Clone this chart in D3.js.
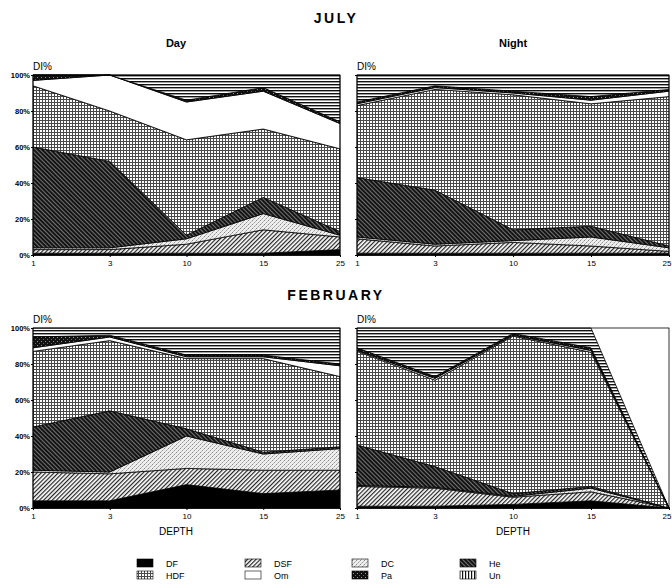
<!DOCTYPE html>
<html>
<head>
<meta charset="utf-8">
<script src="https://cdn.jsdelivr.net/npm/d3@7/dist/d3.min.js"></script>
<style>
  html, body { margin: 0; padding: 0; background: #fff; }
  svg { display: block; font-family: "Liberation Sans", Arial, sans-serif; }
</style>
</head>
<body>
<svg id="chart" width="672" height="588"></svg>
<script>
// ---------- DATA ----------
const depths = ["1", "3", "10", "15", "25"];
const seriesNames = ["DF", "DSF", "DC", "He", "HDF", "Om", "Pa", "Un"];
const legendOrder = ["DF", "DSF", "DC", "He", "HDF", "Om", "Pa", "Un"];
const yTicks = [0, 20, 40, 60, 80, 100];
const yTickLabels = ["0%", "20%", "40%", "60%", "80%", "100%"];

// July, Day (percent of diet per category at each depth)
const julyDayDF  = [1, 1, 1, 1, 3];
const julyDayDSF = [2, 2, 5, 13, 7];
const julyDayDC  = [1, 1, 3, 9, 1];
const julyDayHe  = [56, 48, 2, 9, 2];
const julyDayHDF = [34, 28, 53, 38, 46];
const julyDayOm  = [3, 20, 21, 21, 14];
const julyDayPa  = [3, 0, 1, 2, 1];
const julyDayUn  = [0, 0, 14, 7, 26];

// July, Night
const julyNightDF  = [1, 1, 1, 1, 1];
const julyNightDSF = [8, 4, 6, 4, 1];
const julyNightDC  = [1, 1, 1, 5, 2];
const julyNightHe  = [33, 30, 6, 6, 1];
const julyNightHDF = [40, 56, 75, 68, 83];
const julyNightOm  = [1, 1, 1, 2, 3];
const julyNightPa  = [1, 1, 1, 2, 1];
const julyNightUn  = [15, 6, 9, 12, 8];

// February, Day
const febDayDF  = [4, 4, 13, 8, 10];
const febDayDSF = [16, 15, 9, 13, 11];
const febDayDC  = [1, 1, 18, 9, 12];
const febDayHe  = [24, 34, 4, 1, 1];
const febDayHDF = [42, 39, 39, 52, 39];
const febDayOm  = [2, 2, 1, 1, 6];
const febDayPa  = [6, 1, 1, 1, 1];
const febDayUn  = [5, 4, 15, 15, 20];

// February, Night
const febNightDF  = [1, 1, 2, 4, 0];
const febNightDSF = [11, 10, 4, 5, 0];
const febNightDC  = [0.5, 0.5, 0.5, 2, 0];
const febNightHe  = [22.5, 11.5, 1.5, 1, 0];
const febNightHDF = [52, 48, 87.5, 74.5, 0];
const febNightOm  = [0.5, 1, 0.5, 1, 0];
const febNightPa  = [1.5, 1, 1, 1.5, 0];
const febNightUn  = [11, 27, 3, 11, 0];

const panelSeries = {
  julyDay:   [julyDayDF, julyDayDSF, julyDayDC, julyDayHe, julyDayHDF, julyDayOm, julyDayPa, julyDayUn],
  julyNight: [julyNightDF, julyNightDSF, julyNightDC, julyNightHe, julyNightHDF, julyNightOm, julyNightPa, julyNightUn],
  febDay:    [febDayDF, febDayDSF, febDayDC, febDayHe, febDayHDF, febDayOm, febDayPa, febDayUn],
  febNight:  [febNightDF, febNightDSF, febNightDC, febNightHe, febNightHDF, febNightOm, febNightPa, febNightUn]
};

// ---------- DRAWING ----------
const svg = d3.select("#chart");
const defs = svg.append("defs");

function pat(id, w, h, build, transform) {
  const p = defs.append("pattern").attr("id", id)
    .attr("patternUnits", "userSpaceOnUse").attr("width", w).attr("height", h);
  if (transform) p.attr("patternTransform", transform);
  build(p);
}
// DSF: diagonal hatch
pat("pDSF", 3, 3, p => {
  p.append("rect").attr("width", 3).attr("height", 3).attr("fill", "#fff");
  p.append("rect").attr("width", 1.2).attr("height", 3).attr("fill", "#222");
}, "rotate(45)");
// DC: light stipple
pat("pDC", 4, 4, p => {
  p.append("rect").attr("width", 4).attr("height", 4).attr("fill", "#eee");
  p.append("rect").attr("x", 0).attr("y", 0).attr("width", 1).attr("height", 1).attr("fill", "#888");
  p.append("rect").attr("x", 2).attr("y", 2).attr("width", 1).attr("height", 1).attr("fill", "#999");
  p.append("rect").attr("x", 3).attr("y", 1).attr("width", 1).attr("height", 1).attr("fill", "#bbb");
  p.append("rect").attr("x", 1).attr("y", 3).attr("width", 1).attr("height", 1).attr("fill", "#bbb");
});
// He: dark diagonal hatch
pat("pHe", 3, 3, p => {
  p.append("rect").attr("width", 3).attr("height", 3).attr("fill", "#141414");
  p.append("rect").attr("width", 0.8).attr("height", 3).attr("fill", "#8a8a8a");
}, "rotate(-45)");
// HDF: fine grid
pat("pHDF", 3, 3, p => {
  p.append("rect").attr("width", 3).attr("height", 3).attr("fill", "#fff");
  p.append("rect").attr("width", 3).attr("height", 1).attr("fill", "#4a4a4a");
  p.append("rect").attr("width", 1).attr("height", 3).attr("fill", "#4a4a4a");
});
// Pa: dark stipple
pat("pPa", 4, 4, p => {
  p.append("rect").attr("width", 4).attr("height", 4).attr("fill", "#111");
  p.append("rect").attr("x", 1).attr("y", 1).attr("width", 1).attr("height", 1).attr("fill", "#999");
  p.append("rect").attr("x", 3).attr("y", 3).attr("width", 1).attr("height", 1).attr("fill", "#666");
});
// Un: horizontal lines (chart)
pat("pUn", 3, 3, p => {
  p.append("rect").attr("width", 3).attr("height", 3).attr("fill", "#fff");
  p.append("rect").attr("width", 3).attr("height", 1.4).attr("fill", "#111");
});
// Un: vertical lines (legend swatch)
pat("pUnV", 3, 3, p => {
  p.append("rect").attr("width", 3).attr("height", 3).attr("fill", "#fff");
  p.append("rect").attr("width", 1.2).attr("height", 3).attr("fill", "#111");
});

const fills = {
  DF: "#000", DSF: "url(#pDSF)", DC: "url(#pDC)", He: "url(#pHe)",
  HDF: "url(#pHDF)", Om: "#fff", Pa: "url(#pPa)", Un: "url(#pUn)"
};
const legendFills = Object.assign({}, fills, { Un: "url(#pUnV)" });

function drawPanel(key, x0, x1, yTop, yBot, showYLabels, clampLast) {
  const series = panelSeries[key];
  const rows = depths.map((d, i) => {
    const r = { depth: d };
    seriesNames.forEach((s, j) => r[s] = series[j][i]);
    return r;
  });
  const stack = d3.stack().keys(seriesNames)(rows);
  const x = d3.scalePoint().domain(depths).range([x0, x1]);
  const y = d3.scaleLinear().domain([0, 100]).range([yBot, yTop]);
  const area = d3.area()
    .x(d => x(d.data.depth))
    .y0(d => y(d[0]))
    .y1(d => y(d[1]))
    .curve(d3.curveLinear);

  const g = svg.append("g");
  g.selectAll("path.layer").data(stack).join("path")
    .attr("class", "layer")
    .attr("d", area)
    .attr("fill", d => fills[d.key])
    .attr("stroke", "#000")
    .attr("stroke-width", 0.8)
    .attr("stroke-linejoin", "round");

  // frame
  g.append("rect").attr("x", x0).attr("y", yTop)
    .attr("width", x1 - x0).attr("height", yBot - yTop)
    .attr("fill", "none").attr("stroke", "#000").attr("stroke-width", 0.8);
  g.append("line").attr("x1", x0).attr("x2", x1).attr("y1", yBot).attr("y2", yBot)
    .attr("stroke", "#000").attr("stroke-width", 1.6);

  // x axis
  const xa = g.append("g").attr("transform", `translate(0,${yBot})`)
    .call(d3.axisBottom(x).tickSize(2).tickPadding(3));
  xa.select(".domain").remove();
  xa.selectAll("text").attr("font-size", 8).attr("font-family", "Liberation Sans, Arial, sans-serif").attr("fill", "#000");
  xa.selectAll("line").attr("stroke", "#000");
  if (clampLast) {
    xa.selectAll(".tick").filter(d => d === depths[depths.length - 1])
      .select("text").attr("text-anchor", "end").attr("dx", 2);
  }

  // y axis
  const ya = g.append("g").attr("transform", `translate(${x0},0)`)
    .call(d3.axisLeft(y).tickValues(yTicks)
      .tickFormat((d, i) => showYLabels ? yTickLabels[i] : "")
      .tickSize(2).tickPadding(1));
  ya.select(".domain").remove();
  ya.selectAll("text").attr("font-size", 7.5).attr("font-weight", "bold")
    .attr("font-family", "Liberation Sans, Arial, sans-serif").attr("fill", "#000");
  ya.selectAll("line").attr("stroke", "#000");

  g.append("text").attr("x", x0).attr("y", yTop - 5)
    .attr("font-size", 10).attr("fill", "#000").text("DI%");
}

const L0 = 33, L1 = 340, R0 = 357, R1 = 669;
drawPanel("julyDay", L0, L1, 75, 255, true, false);
drawPanel("julyNight", R0, R1, 75, 255, false, true);
drawPanel("febDay", L0, L1, 328, 508, true, false);
drawPanel("febNight", R0, R1, 328, 508, false, true);

// titles
svg.append("text").attr("x", 336).attr("y", 23).attr("text-anchor", "middle")
  .attr("font-size", 14).attr("font-weight", "bold").attr("letter-spacing", 2.5).text("JULY");
svg.append("text").attr("x", 336).attr("y", 300).attr("text-anchor", "middle")
  .attr("font-size", 14).attr("font-weight", "bold").attr("letter-spacing", 2.5).text("FEBRUARY");
svg.append("text").attr("x", 176).attr("y", 47).attr("text-anchor", "middle")
  .attr("font-size", 11).attr("font-weight", "bold").text("Day");
svg.append("text").attr("x", 513).attr("y", 47).attr("text-anchor", "middle")
  .attr("font-size", 11).attr("font-weight", "bold").text("Night");
svg.append("text").attr("x", 176).attr("y", 535).attr("text-anchor", "middle")
  .attr("font-size", 10).text("DEPTH");
svg.append("text").attr("x", 513).attr("y", 535).attr("text-anchor", "middle")
  .attr("font-size", 10).text("DEPTH");

// legend
const legX = [137, 245, 352, 460];
const legY = [559, 571];
const leg = svg.append("g");
legendOrder.forEach((name, i) => {
  const col = i % 4, row = Math.floor(i / 4);
  const gx = legX[col], gy = legY[row];
  leg.append("rect").attr("x", gx).attr("y", gy).attr("width", 16).attr("height", 8)
    .attr("fill", legendFills[name]).attr("stroke", "#000").attr("stroke-width", 0.6);
  leg.append("text").attr("x", gx + 29).attr("y", gy + 7.5)
    .attr("font-size", 9).text(name);
});
</script>
</body>
</html>
